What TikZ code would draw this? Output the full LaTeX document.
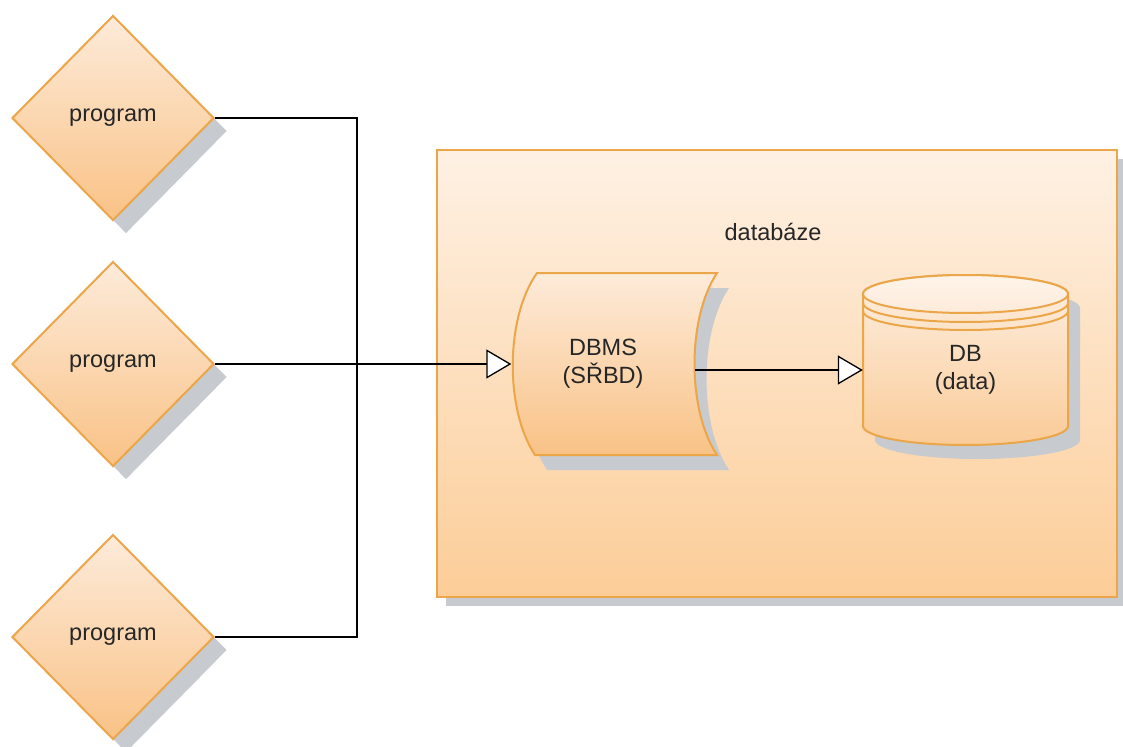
\documentclass[tikz,border=0pt]{standalone}
\usepackage{fontspec}
\setmainfont{Liberation Sans}
\usetikzlibrary{shapes.geometric,arrows.meta,shadows}

\definecolor{edgeorange}{HTML}{EBA649}
\definecolor{shadowgray}{HTML}{C7CACF}
\definecolor{peachtop}{HTML}{FDEBDA}
\definecolor{peachbot}{HTML}{F9C286}
\definecolor{boxtop}{HTML}{FEF1E4}
\definecolor{boxbot}{HTML}{FCCD98}
\definecolor{captop}{HTML}{FEF4EA}

\tikzset{
  lbl/.style={font=\fontsize{23.5}{28}\selectfont, text=black!85, align=center},
  boxshadow/.style={general shadow={fill=shadowgray, shadow xshift=#1, shadow yshift=-#1}},
  prog/.style={diamond, minimum width=202pt, minimum height=205pt, inner sep=0pt,
    draw=edgeorange, line width=2pt, top color=peachtop, bottom color=peachbot,
    boxshadow=13pt, lbl},
  container/.style={rectangle, minimum width=680pt, minimum height=447pt,
    draw=edgeorange, line width=2.5pt, top color=boxtop, bottom color=boxbot,
    boxshadow=9pt},
  shapeline/.style={draw=edgeorange, line width=2pt, top color=peachtop, bottom color=peachbot},
  conn/.style={draw=black, line width=1.4pt},
  arr/.style={conn, -{Triangle[length=25pt, width=29pt, fill=white, line width=1.3pt]}},
}

% outline of the stored-procedure (DBMS) symbol
\def\dbmspath{(537,273) -- (717,273) .. controls (687,318) and (687,410) .. (717,455)
  -- (535,455) .. controls (505,410) and (505,318) .. (537,273) -- cycle}
% outline of the cylinder body
\def\cylpath{(863,294) -- (863,426)
  arc[start angle=180, end angle=0, x radius=102.5, y radius=19]
  -- (1068,294) arc[start angle=0, end angle=-180, x radius=102.5, y radius=19] -- cycle}

\begin{document}
\begin{tikzpicture}[x=1pt, y=-1pt]
\useasboundingbox (0,0) rectangle (1123,746);
\fill[white] (0,0) rectangle (1123,746);

% database container
\node[container] (dbase) at (777,373.5) {};
\node[lbl] (dbtitle) at (773,232) {databáze};

% DBMS block
\fill[shadowgray, shift={(12pt,-15pt)}] \dbmspath;
\path[shapeline] \dbmspath;
\node[lbl, minimum width=183pt, minimum height=182pt, inner sep=0pt] (dbms) at (603,364) {DBMS\\(SŘBD)};

% data storage cylinder
\fill[shadowgray, shift={(12pt,-14pt)}] \cylpath;
\path[draw=edgeorange, line width=2pt, top color=peachtop!80!white, bottom color=peachbot!85!white] \cylpath;
\draw[edgeorange, line width=2pt, top color=captop, bottom color=peachtop] (965.5,294) ellipse[x radius=102.5, y radius=19];
\draw[edgeorange, line width=2pt] (863,303) arc[start angle=180, end angle=0, x radius=102.5, y radius=19];
\draw[edgeorange, line width=2pt] (863,311) arc[start angle=180, end angle=0, x radius=102.5, y radius=19];
\node[lbl, minimum width=205pt, minimum height=170pt, inner sep=0pt] (db) at (965.5,370) {DB\\(data)};

% application programs
\node[prog] (p1) at (113,118) {program};
\node[prog] (p2) at (113,364) {program};
\node[prog] (p3) at (113,637) {program};

% connectors
\coordinate (join) at (357,364);
\draw[conn] (p1.east) -| (join);
\draw[conn] (p3.east) -| (join);
\draw[arr] (p2.east) -- (dbms.west);
\draw[arr] (dbms.east |- db.west) -- (db.west);
\end{tikzpicture}
\end{document}
